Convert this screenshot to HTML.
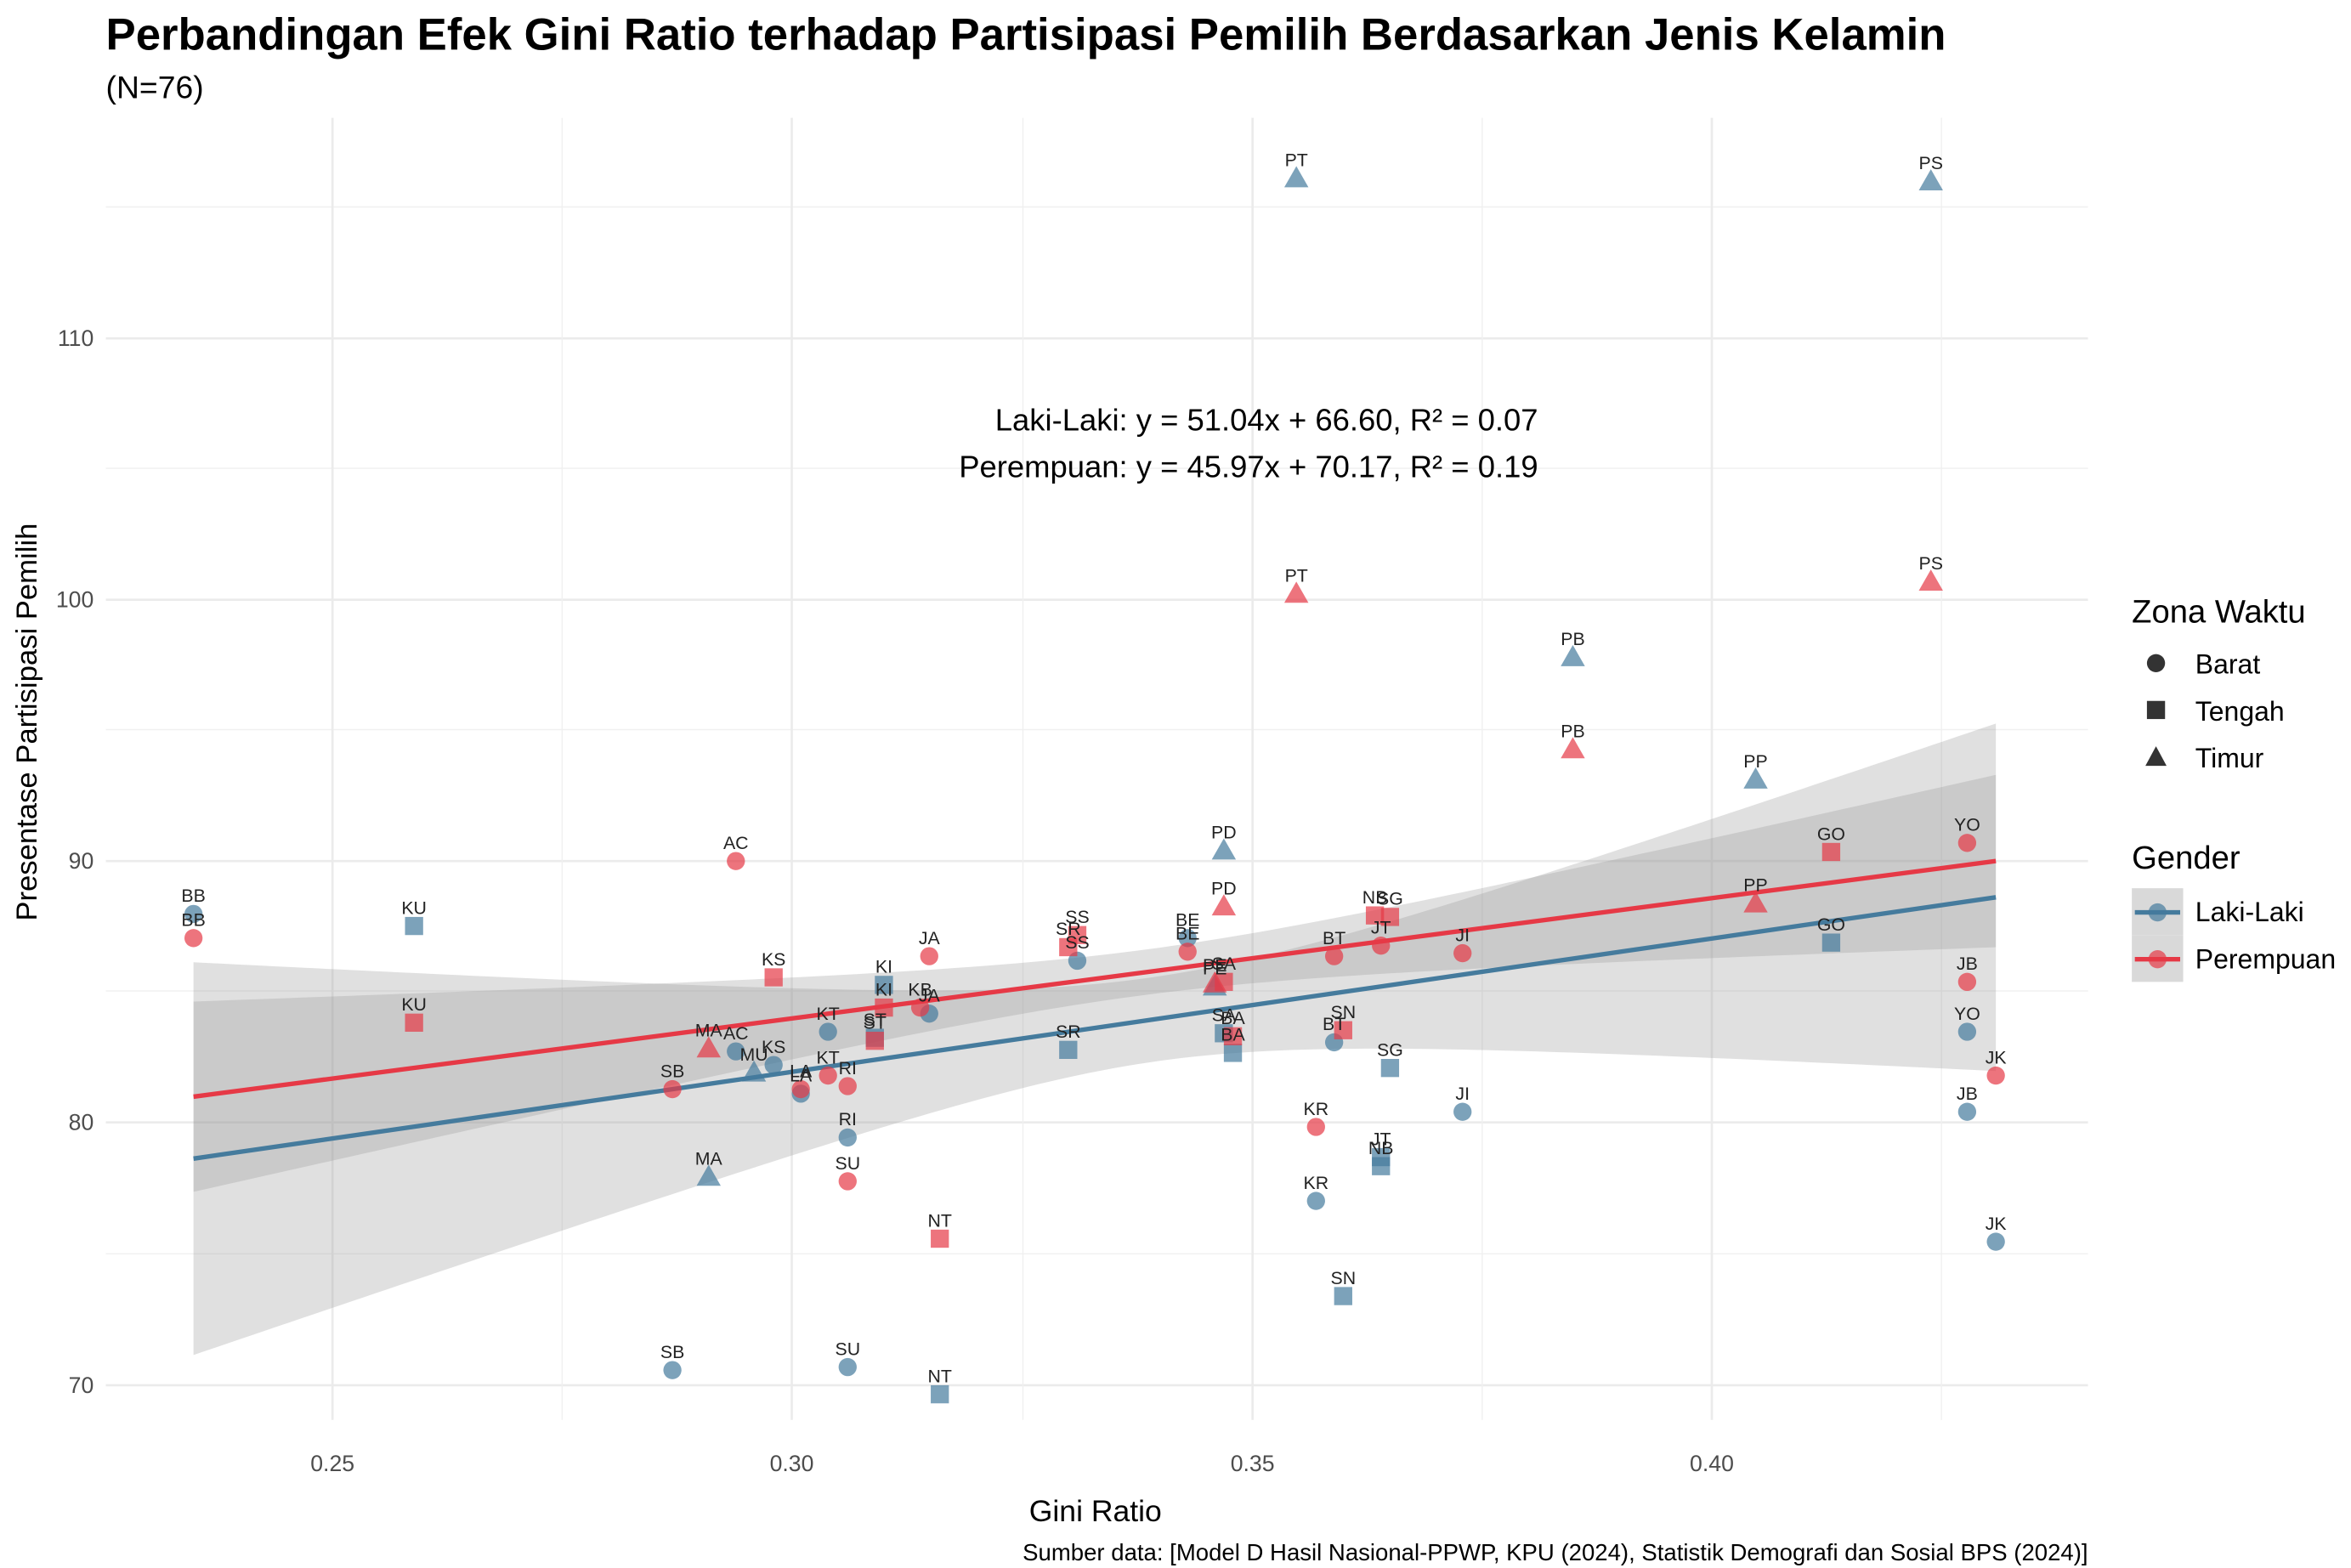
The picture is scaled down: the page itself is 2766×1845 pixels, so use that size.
<!DOCTYPE html>
<html><head><meta charset="utf-8"><style>
html,body{margin:0;padding:0;background:#fff;}
svg{display:block;font-family:"Liberation Sans",Arial,sans-serif;}
</style></head><body>
<svg id="s" width="2766" height="1845" viewBox="0 0 1556 1038" xmlns="http://www.w3.org/2000/svg">
<rect width="1556" height="1038" fill="#fff"/>
<g id="grid"></g>
<g id="bands"></g>
<g id="lines"></g>
<g id="pts"></g>
<g id="lbl" font-size="12" fill="#222" text-anchor="middle"></g>
<text x="70" y="33" font-size="29.5" font-weight="bold" fill="#000" textLength="1218" lengthAdjust="spacingAndGlyphs">Perbandingan Efek Gini Ratio terhadap Partisipasi Pemilih Berdasarkan Jenis Kelamin</text>
<text x="70" y="65" font-size="21" fill="#000">(N=76)</text>
<text x="1018" y="285" font-size="20.5" text-anchor="end" fill="#000">Laki-Laki: y = 51.04x + 66.60, R² = 0.07</text>
<text x="1018" y="316" font-size="20.5" text-anchor="end" fill="#000">Perempuan: y = 45.97x + 70.17, R² = 0.19</text>
<g font-size="15" fill="#4d4d4d">
<text x="220" y="974" text-anchor="middle">0.25</text>
<text x="524" y="974" text-anchor="middle">0.30</text>
<text x="829" y="974" text-anchor="middle">0.35</text>
<text x="1133" y="974" text-anchor="middle">0.40</text>
<text x="62" y="922" text-anchor="end">70</text>
<text x="62" y="748" text-anchor="end">80</text>
<text x="62" y="575" text-anchor="end">90</text>
<text x="62" y="402" text-anchor="end">100</text>
<text x="62" y="229" text-anchor="end">110</text>
</g>
<text x="725" y="1007" font-size="20" text-anchor="middle" fill="#000">Gini Ratio</text>
<text transform="translate(24,478) rotate(-90)" font-size="19.5" text-anchor="middle" fill="#000">Presentase Partisipasi Pemilih</text>
<text x="1382" y="1033" font-size="15.5" text-anchor="end" fill="#000">Sumber data: [Model D Hasil Nasional-PPWP, KPU (2024), Statistik Demografi dan Sosial BPS (2024)]</text>
<g font-size="18" fill="#000">
<text x="1411" y="412" font-size="21.5">Zona Waktu</text>
<circle cx="1427" cy="439" r="6" fill="#333"/><text x="1453" y="446">Barat</text>
<rect x="1421" y="464" width="12" height="12" fill="#333"/><text x="1453" y="477">Tengah</text>
<polygon points="1427,494 1434,507 1420,507" fill="#333"/><text x="1453" y="508">Timur</text>
<text x="1411" y="575" font-size="21.5">Gender</text>
<rect x="1411" y="588" width="34" height="31" fill="#d9d9d9"/>
<line x1="1413" y1="604" x2="1443" y2="604" stroke="#457B9D" stroke-width="3"/>
<circle cx="1428" cy="604" r="6" fill="#457B9D" fill-opacity="0.7"/>
<text x="1453" y="610">Laki-Laki</text>
<rect x="1411" y="619" width="34" height="31" fill="#d9d9d9"/>
<line x1="1413" y1="635" x2="1443" y2="635" stroke="#E63946" stroke-width="3"/>
<circle cx="1428" cy="635" r="6" fill="#E63946" fill-opacity="0.7"/>
<text x="1453" y="641">Perempuan</text>
</g>
</svg>
<script>
var NS="http://www.w3.org/2000/svg";
function el(p,t,a){var e=document.createElementNS(NS,t);for(var k in a)e.setAttribute(k,a[k]);document.getElementById(p).appendChild(e);return e;}
[137,310,483,656,830].forEach(function(y){el("grid","line",{x1:70,x2:1382,y1:y,y2:y,stroke:"#f0f0f0","stroke-width":0.8});});
[224,397,570,743,917].forEach(function(y){el("grid","line",{x1:70,x2:1382,y1:y,y2:y,stroke:"#ebebeb","stroke-width":1.5});});
[372,677,981,1285].forEach(function(x){el("grid","line",{x1:x,x2:x,y1:78,y2:940,stroke:"#f0f0f0","stroke-width":0.8});});
[220,524,829,1133].forEach(function(x){el("grid","line",{x1:x,x2:x,y1:78,y2:940,stroke:"#ebebeb","stroke-width":1.5});});
function band(y0,y1,c,xm,k){var up=[],dn=[];for(var x=128;x<=1321;x+=8){var yc=y0+(y1-y0)*(x-128)/1193;var h=Math.sqrt(c+k*(x-xm)*(x-xm));up.push(x+","+(yc-h));dn.unshift(x+","+(yc+h));}
var yc=y1,h=Math.sqrt(c+k*(1321-xm)*(1321-xm));up.push("1321,"+(yc-h));dn.unshift("1321,"+(yc+h));
el("bands","polygon",{points:up.concat(dn).join(" "),fill:"#999","fill-opacity":0.3});}
band(767,594,784,763,0.03997);
band(726,570,225,756,0.00949);
el("lines","line",{x1:128,y1:767,x2:1321,y2:594,stroke:"#457B9D","stroke-width":3});
el("lines","line",{x1:128,y1:726,x2:1321,y2:570,stroke:"#E63946","stroke-width":3});
var B="#457B9D",R="#E63946";
var L=[["BB","c",128,605],["KU","s",274,613],["MA","t",469,779],["AC","c",487,696],["MU","t",499,710],["KS","c",512,705],["SB","c",445,907],["LA","c",530,724],["KT","c",548,683],["ST","s",579,687],["RI","c",561,753],["SU","c",561,905],["NT","s",622,923],["KI","s",585,652],["JA","c",615,671],["SR","s",707,695],["SS","c",713,636],["BE","c",786,621],["PD","t",810,563],["PE","t",804,653],["SA","s",810,684],["BA","s",816,697],["PT","t",858,118],["KR","c",871,795],["BT","c",883,690],["SN","s",889,858],["JT","s",914,766],["NB","s",914,772],["SG","s",920,707],["JI","c",968,736],["PB","t",1041,435],["PP","t",1162,516],["GO","s",1212,624],["PS","t",1278,120],["YO","c",1302,683],["JB","c",1302,736],["JK","c",1321,822]];
var P=[["BB","c",128,621],["KU","s",274,677],["MA","t",469,694],["SB","c",445,721],["AC","c",487,570],["KS","s",512,647],["LA","c",530,721],["KT","c",548,712],["RI","c",561,719],["SU","c",561,782],["ST","s",579,689],["KI","s",585,667],["JA","c",615,633],["KB","c",609,667],["NT","s",622,820],["SR","s",707,627],["SS","s",713,619],["BE","c",786,630],["PD","t",810,600],["PE","t",804,651],["SA","s",810,650],["BA","s",816,686],["PT","t",858,393],["KR","c",871,746],["BT","c",883,633],["SN","s",889,682],["NB","s",910,606],["SG","s",920,607],["JT","c",914,626],["JI","c",968,631],["PB","t",1041,496],["PP","t",1162,598],["GO","s",1212,564],["PS","t",1278,385],["YO","c",1302,558],["JB","c",1302,650],["JK","c",1321,712]];
function draw(arr,col){arr.forEach(function(d){var x=d[2],y=d[3];
if(d[1]=="c")el("pts","circle",{cx:x,cy:y,r:6,fill:col,"fill-opacity":0.7});
else if(d[1]=="s")el("pts","rect",{x:x-6,y:y-6,width:12,height:12,fill:col,"fill-opacity":0.7});
else el("pts","polygon",{points:x+","+(y-8)+" "+(x+8)+","+(y+6)+" "+(x-8)+","+(y+6),fill:col,"fill-opacity":0.7});
var t=el("lbl","text",{x:x,y:y-8});t.textContent=d[0];});}
draw(L,B);draw(P,R);
</script>
</body></html>
